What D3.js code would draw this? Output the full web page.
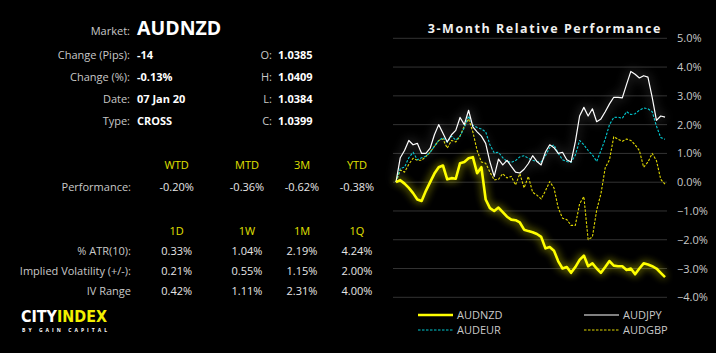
<!DOCTYPE html>
<html><head><meta charset="utf-8">
<script src="https://cdn.jsdelivr.net/npm/d3@7"></script>
<style>
html,body{margin:0;padding:0;background:#000;}
svg{display:block;font-family:"Open Sans",sans-serif;}
</style></head>
<body><svg id="c" width="716" height="353"></svg>
<script>
const market = "AUDNZD";
const infoLeft = [["Change (Pips):","-14"],["Change (%):","-0.13%"],["Date:","07 Jan 20"],["Type:","CROSS"]];
const infoRight = [["O:","1.0385"],["H:","1.0409"],["L:","1.0384"],["C:","1.0399"]];
const perfHeaders = ["WTD","MTD","3M","YTD"];
const perfValues = ["-0.20%","-0.36%","-0.62%","-0.38%"];
const volHeaders = ["1D","1W","1M","1Q"];
const volRows = [
  ["% ATR(10):",["0.33%","1.04%","2.19%","4.24%"]],
  ["Implied Volatility (+/-):",["0.21%","0.55%","1.15%","2.00%"]],
  ["IV Range",["0.42%","1.11%","2.31%","4.00%"]]
];
const yTicks = [5,4,3,2,1,0,-1,-2,-3,-4];
const seriesNames = ["AUDNZD","AUDJPY","AUDEUR","AUDGBP"];
const audnzd = [0,0.07,-0.05,-0.2,-0.38,-0.6,-0.65,-0.3,0,0.3,0.52,0.58,0.1,0.14,0.12,0.66,0.7,0.83,0.87,0.31,0.52,-0.6,-0.9,-1.0,-0.88,-1.04,-1.2,-1.3,-1.32,-1.4,-1.65,-1.7,-1.74,-1.8,-1.9,-2.3,-2.25,-2.38,-2.75,-3.0,-2.95,-3.15,-2.95,-2.7,-2.55,-2.92,-2.82,-3.0,-3.15,-2.95,-2.74,-2.9,-2.92,-2.92,-3.05,-3.0,-3.2,-3.0,-2.82,-2.86,-2.92,-3.0,-3.15,-3.3];
const audjpy = [0,0.85,1.1,1.45,1.3,1.35,1.0,1.0,1.18,1.65,2.0,1.7,1.4,1.65,1.8,2.25,2.0,2.5,1.92,1.75,1.6,1.35,0.7,0.2,0.8,0.6,0.76,0.55,0.35,0.32,0.45,0.65,0.92,0.72,0.6,1.05,1.3,1.2,1.0,1.04,0.78,0.7,1.4,2.3,2.6,2.3,2.55,2.1,2.2,2.45,2.72,2.95,2.95,2.93,3.4,3.85,3.75,3.62,3.7,3.65,2.95,2.15,2.3,2.26];
const audeur = [0,0.48,0.52,0.85,1.04,0.78,0.85,0.9,1.04,1.25,1.45,1.55,1.39,1.6,1.46,1.6,1.9,2.3,1.98,1.9,1.85,1.75,1.3,1.02,1.04,0.85,0.72,0.69,0.75,0.88,0.92,0.83,0.76,0.72,0.7,0.92,1.2,1.3,1.0,0.78,0.72,0.69,0.94,1.45,1.3,1.1,0.95,0.72,1.1,1.5,2.0,2.25,2.26,2.22,2.45,2.35,2.38,2.5,2.58,2.55,2.45,1.95,1.55,1.49];
const audgbp = [0,0.42,0.35,0.62,0.83,0.76,0.76,0.9,1.04,1.25,1.45,1.5,1.18,1.45,1.4,1.6,1.95,2.2,1.75,1.1,0.7,0.66,0.35,0.08,0.1,0.3,0.15,0.2,-0.1,0.3,-0.2,0.2,-0.35,-0.45,-0.58,-0.3,0.02,-0.2,-0.9,-1.25,-1.3,-1.5,-1.5,-0.75,-0.5,-2.0,-1.9,-0.97,-0.4,0.5,0.78,1.58,1.49,1.42,1.5,1.45,1.3,1.1,0.52,0.7,1.0,0.75,0.1,-0.07];

const svg = d3.select("#c");
const defs = svg.append("defs");
function glow(id, std, op){
  const f = defs.append("filter").attr("id",id).attr("x","-20%").attr("y","-20%").attr("width","140%").attr("height","140%");
  f.append("feGaussianBlur").attr("in","SourceGraphic").attr("stdDeviation",std).attr("result","b");
  f.append("feComponentTransfer").attr("in","b").attr("result","b2").append("feFuncA").attr("type","linear").attr("slope",op);
  const m = f.append("feMerge");
  m.append("feMergeNode").attr("in","b2");
  m.append("feMergeNode").attr("in","SourceGraphic");
}
glow("gy",4.5,0.9);
glow("gw",5.5,0.6);

const grey = "#c8c8c8", hdr = "#e2e000";
// Left info panel
svg.append("text").attr("x",130).attr("y",35).attr("text-anchor","end").attr("font-size",11).attr("fill",grey).text("Market:");
svg.append("text").attr("x",137).attr("y",35).attr("font-size",19.5).attr("font-weight","bold").attr("fill","#fff").text(market);
infoLeft.forEach((d,i)=>{
  const y = 59 + i*22;
  svg.append("text").attr("x",130).attr("y",y).attr("text-anchor","end").attr("font-size",11).attr("fill",grey).text(d[0]);
  svg.append("text").attr("x",137).attr("y",y).attr("font-size",11).attr("font-weight","bold").attr("fill","#fff").text(d[1]);
});
infoRight.forEach((d,i)=>{
  const y = 59 + i*22;
  svg.append("text").attr("x",272).attr("y",y).attr("text-anchor","end").attr("font-size",11).attr("fill",grey).text(d[0]);
  svg.append("text").attr("x",278).attr("y",y).attr("font-size",11).attr("font-weight","bold").attr("fill","#fff").text(d[1]);
});
const colX = [176.7,247,302,357];
perfHeaders.forEach((h,i)=>svg.append("text").attr("x",colX[i]).attr("y",169).attr("text-anchor","middle").attr("font-size",11).attr("fill",hdr).text(h));
svg.append("text").attr("x",131).attr("y",190.5).attr("text-anchor","end").attr("font-size",11).attr("fill",grey).text("Performance:");
perfValues.forEach((v,i)=>svg.append("text").attr("x",colX[i]).attr("y",190.5).attr("text-anchor","middle").attr("font-size",11).attr("fill","#e6e6e6").text(v));
volHeaders.forEach((h,i)=>svg.append("text").attr("x",colX[i]).attr("y",235).attr("text-anchor","middle").attr("font-size",11).attr("fill",hdr).text(h));
volRows.forEach((r,j)=>{
  const y = 254.5 + j*20;
  svg.append("text").attr("x",131).attr("y",y).attr("text-anchor","end").attr("font-size",11).attr("fill",grey).text(r[0]);
  r[1].forEach((v,i)=>svg.append("text").attr("x",colX[i]).attr("y",y).attr("text-anchor","middle").attr("font-size",11).attr("fill","#e6e6e6").text(v));
});
// Logo
const logo = svg.append("text").attr("x",21).attr("y",321.5).attr("font-family","DejaVu Sans, sans-serif").attr("font-size",15).attr("font-weight","bold").attr("textLength",86).attr("lengthAdjust","spacingAndGlyphs");
logo.append("tspan").attr("fill","#fff").text("CITY");
logo.append("tspan").attr("fill","#f2f000").text("INDEX");
svg.append("text").attr("x",22).attr("y",331.5).attr("font-size",5).attr("font-weight","bold").attr("fill","#fff").attr("textLength",85).attr("lengthAdjust","spacing").text("BY GAIN CAPITAL");

// Chart
const x = d3.scaleLinear().domain([0,audnzd.length-1]).range([396,665]);
const y = d3.scaleLinear().domain([-4,5]).range([297.3,38.3]);
svg.append("text").attr("x",662).attr("y",33).attr("text-anchor","end").attr("font-size",12.5).attr("font-weight","bold").attr("letter-spacing",1.55).attr("fill","#f0f0f0").text("3-Month Relative Performance");
const ax = d3.axisRight(y).tickValues(yTicks).tickSize(0).tickPadding(0).tickFormat(d=>d3.format(".1f")(d)+"%");
const g = svg.append("g").attr("transform","translate(677,0)").call(ax);
g.select(".domain").remove();
g.selectAll("text").attr("fill",grey).attr("font-size",11).attr("font-family","Open Sans, sans-serif").attr("dy","0.32em");
svg.append("g").selectAll("line").data(yTicks).join("line")
  .attr("x1",393).attr("x2",667).attr("y1",d=>y(d)).attr("y2",d=>y(d)).attr("stroke","#333").attr("stroke-width",1);

const line = d3.line().x((d,i)=>x(i)).y(d=>y(d));
const styles = {
  AUDGBP:{data:audgbp,color:"#e0d800",w:1.1,dash:"2.5,1.5",filter:null},
  AUDEUR:{data:audeur,color:"#00c8d0",w:1.1,dash:"2.5,1.5",filter:null},
  AUDJPY:{data:audjpy,color:"#ffffff",w:1.2,dash:null,filter:"url(#gw)"},
  AUDNZD:{data:audnzd,color:"#ffff00",w:2.6,dash:null,filter:"url(#gy)"}
};
["AUDGBP","AUDEUR","AUDJPY","AUDNZD"].forEach(k=>{
  const s = styles[k];
  svg.append("path").datum(s.data).attr("d",line).attr("fill","none").attr("stroke",s.color)
    .attr("stroke-width",s.w).attr("stroke-dasharray",s.dash).attr("stroke-linejoin","round").attr("filter",s.filter);
});
// Legend
const legPos = {AUDNZD:[418,315],AUDJPY:[584,315],AUDEUR:[418,330],AUDGBP:[584,330]};
seriesNames.forEach(k=>{
  const s = styles[k], p = legPos[k];
  svg.append("line").attr("x1",p[0]).attr("x2",p[0]+35).attr("y1",p[1]).attr("y2",p[1]).attr("stroke",s.color)
    .attr("stroke-width",k==="AUDNZD"?2.6:1.1).attr("stroke-dasharray",s.dash);
  svg.append("text").attr("x",p[0]+39).attr("y",p[1]).attr("dy","0.35em").attr("font-size",11).attr("fill",grey).text(k);
});
</script></body></html>
